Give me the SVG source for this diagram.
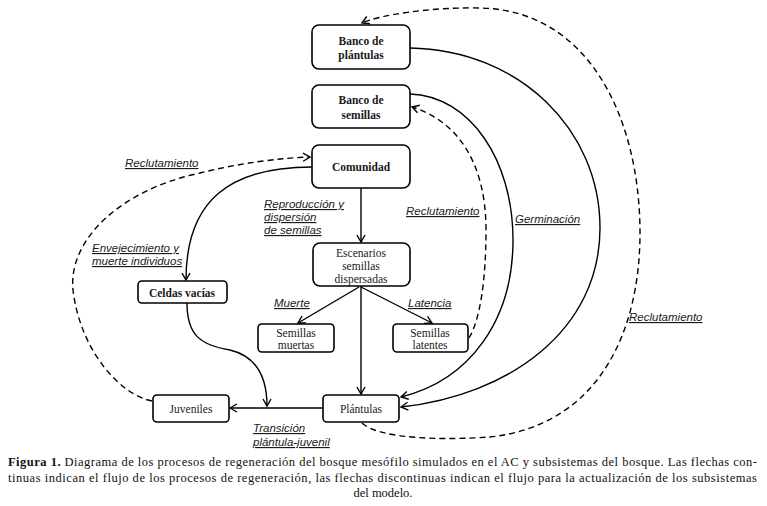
<svg xmlns="http://www.w3.org/2000/svg" width="767" height="506" viewBox="0 0 767 506">
<defs>
<style>
.box{fill:#fff;stroke:#000;stroke-width:1.6}
.nb{font-family:"Liberation Serif","Times New Roman",serif;font-size:11.5px;font-weight:bold;text-anchor:middle;fill:#1a1a1a}
.nr{font-family:"Liberation Serif","Times New Roman",serif;font-size:11.5px;text-anchor:middle;fill:#1a1a1a}
.lbl{font-family:"Liberation Sans",Arial,sans-serif;font-size:11.5px;font-style:italic;text-decoration:underline;fill:#1a1a1a}
.cap{font-family:"Liberation Serif","Times New Roman",serif;font-size:12.5px;fill:#111}
.solid{fill:none;stroke:#000;stroke-width:1.4;marker-end:url(#arr)}
.dash{fill:none;stroke:#000;stroke-width:1.4;stroke-dasharray:6,4;marker-end:url(#arr)}
</style>
<marker id="arr" markerWidth="10" markerHeight="10" refX="8" refY="5" orient="auto" markerUnits="userSpaceOnUse">
<path d="M1,1 L8,5 L1,9" fill="none" stroke="#000" stroke-width="1.4" stroke-dasharray="none"/>
</marker>
</defs>
<rect width="767" height="506" fill="#fff"/>

<g id="connectors">
<path class="solid" d="M361,188 L361,242"/>
<path class="solid" d="M312,167 C230,167 186,200 186,280"/>
<path class="solid" d="M359,287 L298,323"/>
<path class="solid" d="M361,287 L432,323"/>
<path class="solid" d="M361,286 L361,394"/>
<path class="solid" d="M187,303 C187,335 200,345 230,350 C255,356 267,375 267,406"/>
<path class="solid" d="M323,408 L230,408"/>
<path class="solid" d="M410,94 C470,96 513,160 513,240 C513,320 470,380 401,397"/>
<path class="solid" d="M410,48 C520,50 600,130 600,228 C600,330 510,395 401,407"/>
<path class="dash" d="M469,338 C480,320 486,280 486,230 C486,160 455,120 412,107"/>
<path class="dash" d="M362,423 C380,440 450,440 490,437 C600,425 640,330 640,233 C640,120 590,10 480,8 C430,7 380,15 362,23"/>
<path class="dash" d="M152,401 C120,395 80,350 73,290 C68,240 120,190 200,173 C240,163 280,158 310,157"/>
</g>

<g id="banco-plantulas">
<rect class="box" x="312" y="25" width="98" height="44" rx="7"/>
<text class="nb" x="361" y="45">Banco de</text>
<text class="nb" x="361" y="59">plántulas</text>
</g>
<g id="banco-semillas">
<rect class="box" x="312" y="85" width="98" height="43" rx="7"/>
<text class="nb" x="361" y="104">Banco de</text>
<text class="nb" x="361" y="119">semillas</text>
</g>
<g id="comunidad">
<rect class="box" x="312" y="145" width="98" height="43" rx="7"/>
<text class="nb" x="361" y="171">Comunidad</text>
</g>
<g id="escenarios">
<rect class="box" x="313" y="243" width="97" height="43" rx="7"/>
<text class="nr" x="361" y="257">Escenarios</text>
<text class="nr" x="361" y="270">semillas</text>
<text class="nr" x="361" y="283">dispersadas</text>
</g>
<g id="celdas-vacias">
<rect class="box" x="138" y="281" width="89" height="22" rx="4"/>
<text class="nb" x="182" y="297">Celdas vacías</text>
</g>
<g id="semillas-muertas">
<rect class="box" x="258" y="324" width="76" height="28" rx="4"/>
<text class="nr" x="296" y="337">Semillas</text>
<text class="nr" x="296" y="349">muertas</text>
</g>
<g id="semillas-latentes">
<rect class="box" x="393" y="324" width="75" height="28" rx="4"/>
<text class="nr" x="430" y="337">Semillas</text>
<text class="nr" x="430" y="349">latentes</text>
</g>
<g id="juveniles">
<rect class="box" x="153" y="395" width="76" height="27" rx="4"/>
<text class="nr" x="191" y="413">Juveniles</text>
</g>
<g id="plantulas">
<rect class="box" x="323" y="395" width="76" height="27" rx="4"/>
<text class="nr" x="361" y="413">Plántulas</text>
</g>

<g id="labels">
<text class="lbl" x="125" y="167">Reclutamiento</text>
<text class="lbl" x="264" y="208">Reproducción y</text>
<text class="lbl" x="264" y="221">dispersión</text>
<text class="lbl" x="264" y="234">de semillas</text>
<text class="lbl" x="92" y="252">Envejecimiento y</text>
<text class="lbl" x="92" y="265">muerte individuos</text>
<text class="lbl" x="274" y="307">Muerte</text>
<text class="lbl" x="408" y="307">Latencia</text>
<text class="lbl" x="406" y="215">Reclutamiento</text>
<text class="lbl" x="515" y="223">Germinación</text>
<text class="lbl" x="629" y="321">Reclutamiento</text>
<text class="lbl" x="253" y="432">Transición</text>
<text class="lbl" x="253" y="446">plántula-juvenil</text>
</g>

<g id="caption">
<text class="cap" x="8" y="466" textLength="749" lengthAdjust="spacing"><tspan font-weight="bold">Figura 1.</tspan> Diagrama de los procesos de regeneración del bosque mesófilo simulados en el AC y subsistemas del bosque. Las flechas con-</text>
<text class="cap" x="8" y="482" textLength="749" lengthAdjust="spacing">tinuas indican el flujo de los procesos de regeneración, las flechas discontinuas indican el flujo para la actualización de los subsistemas</text>
<text class="cap" x="383" y="497" text-anchor="middle">del modelo.</text>
</g>
</svg>
